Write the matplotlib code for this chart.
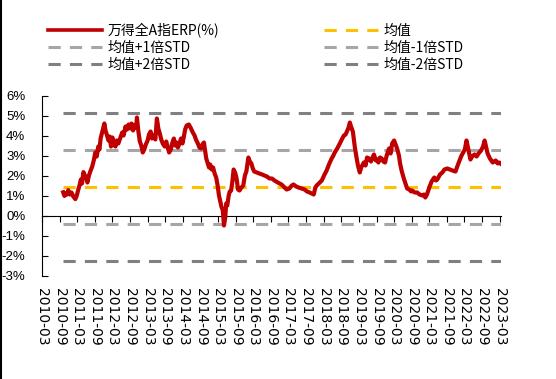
import matplotlib
matplotlib.use("Agg")
import matplotlib.pyplot as plt
import matplotlib.dates as mdates
from matplotlib.lines import Line2D
from matplotlib.font_manager import FontProperties
import pandas as pd

plt.rcParams['font.family'] = ['DejaVu Sans']
plt.rcParams['axes.unicode_minus'] = False

# ERP series (%)
erp_dates = [
    "2010-10-07", "2010-10-20", "2010-11-02", "2010-11-15", "2010-11-28",
    "2010-12-15", "2011-01-01", "2011-01-20", "2011-02-10", "2011-02-25",
    "2011-03-10", "2011-03-25", "2011-04-08", "2011-04-20", "2011-05-05",
    "2011-05-20", "2011-06-05", "2011-06-15", "2011-07-01", "2011-07-15",
    "2011-08-04", "2011-08-20", "2011-09-05", "2011-09-20", "2011-10-06",
    "2011-10-18", "2011-10-30", "2011-11-15", "2011-11-28", "2011-12-08",
    "2011-12-20", "2012-01-05", "2012-01-19", "2012-02-01", "2012-02-15",
    "2012-03-01", "2012-03-15", "2012-04-01", "2012-04-15", "2012-05-01",
    "2012-05-23", "2012-06-10", "2012-06-25", "2012-07-14", "2012-07-30",
    "2012-08-15", "2012-09-01", "2012-09-15", "2012-10-01", "2012-10-15",
    "2012-11-01", "2012-11-10", "2012-11-25", "2012-12-10", "2012-12-25",
    "2013-01-09", "2013-01-25", "2013-02-10", "2013-03-01", "2013-03-15",
    "2013-04-01", "2013-04-15", "2013-05-02", "2013-05-20", "2013-06-05",
    "2013-06-20", "2013-07-05", "2013-07-20", "2013-08-05", "2013-08-25",
    "2013-09-10", "2013-09-25", "2013-10-10", "2013-10-27", "2013-11-10",
    "2013-11-28", "2013-12-10", "2013-12-25", "2014-01-09", "2014-01-25",
    "2014-02-10", "2014-02-25", "2014-03-10", "2014-03-25", "2014-04-10",
    "2014-05-02", "2014-05-20", "2014-06-13", "2014-07-01", "2014-07-15",
    "2014-08-04", "2014-08-20", "2014-09-05", "2014-09-20", "2014-10-06",
    "2014-10-20", "2014-10-30", "2014-11-15", "2014-11-28", "2014-12-10",
    "2014-12-25", "2015-01-09", "2015-01-25", "2015-02-10", "2015-02-25",
    "2015-03-11", "2015-03-25", "2015-04-05", "2015-04-20", "2015-05-02",
    "2015-05-15", "2015-05-25", "2015-06-05", "2015-06-20", "2015-07-01",
    "2015-07-15", "2015-07-28", "2015-08-10", "2015-08-25", "2015-09-08",
    "2015-09-25", "2015-10-10", "2015-10-30", "2015-11-18", "2015-12-05",
    "2015-12-20", "2016-01-10", "2016-01-25", "2016-02-10", "2016-02-25",
    "2016-03-11", "2016-04-05", "2016-05-03", "2016-06-01", "2016-06-24",
    "2016-07-20", "2016-08-16", "2016-09-10", "2016-10-07", "2016-11-10",
    "2016-12-19", "2017-01-20", "2017-02-10", "2017-03-10", "2017-04-05",
    "2017-04-22", "2017-05-20", "2017-06-14", "2017-07-15", "2017-08-15",
    "2017-09-10", "2017-10-07", "2017-11-18", "2017-12-05", "2017-12-19",
    "2018-01-20", "2018-02-10", "2018-03-05", "2018-04-01", "2018-04-25",
    "2018-05-23", "2018-06-10", "2018-06-24", "2018-07-20", "2018-08-16",
    "2018-09-05", "2018-09-27", "2018-10-15", "2018-10-28", "2018-11-15",
    "2018-11-28", "2018-12-10", "2018-12-29", "2019-01-19", "2019-02-05",
    "2019-02-20", "2019-03-11", "2019-03-25", "2019-04-22", "2019-05-10",
    "2019-05-25", "2019-06-14", "2019-07-05", "2019-07-25", "2019-08-05",
    "2019-08-25", "2019-09-05", "2019-09-20", "2019-10-06", "2019-10-25",
    "2019-11-10", "2019-11-28", "2019-12-15", "2020-01-09", "2020-01-25",
    "2020-02-10", "2020-03-01", "2020-03-20", "2020-04-01", "2020-04-20",
    "2020-05-02", "2020-05-20", "2020-06-13", "2020-06-30", "2020-07-14",
    "2020-08-05", "2020-08-25", "2020-09-05", "2020-10-01", "2020-10-27",
    "2020-11-20", "2020-12-19", "2021-01-05", "2021-01-19", "2021-02-05",
    "2021-03-01", "2021-03-25", "2021-04-22", "2021-05-10", "2021-05-23",
    "2021-06-20", "2021-07-14", "2021-08-05", "2021-09-05", "2021-10-01",
    "2021-10-27", "2021-11-28", "2021-12-20", "2022-01-09", "2022-01-25",
    "2022-02-10", "2022-03-05", "2022-03-22", "2022-04-10", "2022-05-02",
    "2022-05-20", "2022-06-13", "2022-07-05", "2022-07-25", "2022-08-20",
    "2022-09-10", "2022-09-26", "2022-10-10", "2022-10-27", "2022-11-20",
    "2022-12-19", "2023-01-05", "2023-01-19", "2023-02-10", "2023-02-25",
    "2023-03-10",
]
erp_values = [
    1.16, 0.98, 1.12, 1.05, 1.27,
    1.05, 1.15, 0.95, 0.82, 1.00,
    1.25, 1.50, 1.80, 1.60, 2.17,
    2.00, 1.85, 1.65, 2.00, 2.20,
    2.45, 2.75, 3.15, 2.95, 3.45,
    3.30, 3.85, 4.15, 4.40, 4.60,
    4.25, 4.00, 3.75, 3.95, 3.45,
    3.90, 3.55, 3.45, 3.75, 3.60,
    3.90, 4.15, 4.00, 4.45, 4.30,
    4.55, 4.35, 4.60, 4.25, 4.50,
    4.40, 4.90, 4.20, 3.70, 3.50,
    3.15, 3.30, 3.55, 3.75, 4.05,
    4.20, 3.85, 4.00, 3.80, 4.85,
    4.35, 4.10, 3.80, 3.60, 3.45,
    3.70, 3.40, 3.15, 3.30, 3.60,
    3.85, 3.50, 3.65, 3.40, 3.60,
    3.85, 3.60, 3.90, 4.30, 4.50,
    4.55, 4.40, 4.15, 4.00, 3.80,
    3.60, 3.40, 3.35, 3.55, 3.65,
    3.20, 2.85, 2.60, 2.40, 2.55,
    2.30, 2.40, 2.10, 1.90, 1.50,
    1.00, 0.70, 0.45, 0.25, -0.50,
    -0.10, 0.60, 0.50, 1.00, 1.20,
    1.25, 1.70, 2.30, 2.15, 1.90,
    1.30, 1.25, 1.40, 1.50, 2.00,
    2.20, 2.90, 2.70, 2.60, 2.35,
    2.20, 2.15, 2.10, 2.05, 2.00,
    1.95, 1.85, 1.85, 1.75, 1.65,
    1.55, 1.40, 1.30, 1.35, 1.50,
    1.55, 1.45, 1.40, 1.35, 1.30,
    1.20, 1.15, 1.05, 1.40, 1.50,
    1.65, 1.75, 2.00, 2.25, 2.55,
    2.85, 3.00, 3.15, 3.35, 3.60,
    3.80, 4.00, 4.05, 4.20, 4.40,
    4.65, 4.45, 4.20, 3.40, 2.90,
    2.50, 2.15, 2.40, 2.65, 2.50,
    2.90, 2.85, 2.70, 2.95, 3.05,
    2.75, 2.80, 2.65, 2.90, 2.85,
    2.70, 2.65, 3.00, 3.35, 3.10,
    3.60, 3.75, 3.50, 3.35, 3.00,
    2.60, 2.20, 1.80, 1.55, 1.35,
    1.30, 1.20, 1.25, 1.15, 1.15,
    1.05, 1.00, 1.05, 0.90, 1.05,
    1.40, 1.70, 1.90, 1.75, 1.80,
    2.05, 2.15, 2.30, 2.35, 2.30,
    2.25, 2.20, 2.50, 2.75, 2.95,
    3.10, 3.30, 3.75, 3.30, 2.80,
    2.95, 3.05, 2.95, 3.10, 3.25,
    3.45, 3.75, 3.45, 3.10, 2.85,
    2.65, 2.70, 2.75, 2.60, 2.65,
    2.60,
]

# reference levels
mean_level = 1.45
plus1_level = 3.30
plus2_level = 5.15
minus1_level = -0.42
minus2_level = -2.28

tick_labels = [
    "2010-03", "2010-09", "2011-03", "2011-09", "2012-03", "2012-09",
    "2013-03", "2013-09", "2014-03", "2014-09", "2015-03", "2015-09",
    "2016-03", "2016-09", "2017-03", "2017-09", "2018-03", "2018-09",
    "2019-03", "2019-09", "2020-03", "2020-09", "2021-03", "2021-09",
    "2022-03", "2022-09", "2023-03",
]
y_ticks = [-3, -2, -1, 0, 1, 2, 3, 4, 5, 6]

legend_labels = ["万得全A指ERP(%)", "均值+1倍STD", "均值+2倍STD",
                 "均值", "均值-1倍STD", "均值-2倍STD"]

red = "#C00000"
yellow = "#FFC000"
light_gray = "#A6A6A6"
dark_gray = "#808080"

x = mdates.date2num(pd.to_datetime(erp_dates))
tick_x = mdates.date2num(pd.to_datetime([t + "-01" for t in tick_labels]))

fig = plt.figure(figsize=(5.56, 3.79), dpi=100)
ax = fig.add_axes([42 / 556, 1 - 275.5 / 379, 459 / 556, 180 / 379])

dash = (0, (4, 3))
ax.hlines(plus2_level, x[0], x[-1], color=dark_gray, lw=2.2, linestyle=dash)
ax.hlines(plus1_level, x[0], x[-1], color=light_gray, lw=2.2, linestyle=dash)
ax.hlines(mean_level, x[0], x[-1], color=yellow, lw=2.2, linestyle=dash)
ax.hlines(minus1_level, x[0], x[-1], color=light_gray, lw=2.2, linestyle=dash)
ax.hlines(minus2_level, x[0], x[-1], color=dark_gray, lw=2.2, linestyle=dash)
ax.plot(x, erp_values, color=red, lw=3.0, zorder=5)

ax.set_xlim(mdates.date2num(pd.Timestamp("2010-03-01")),
            mdates.date2num(pd.Timestamp("2023-03-15")))
ax.set_ylim(-3, 6)

ax.spines["top"].set_visible(False)
ax.spines["right"].set_visible(False)
ax.spines["bottom"].set_position(("data", 0))

ax.set_yticks(y_ticks)
ax.set_yticklabels([f"{v}%" for v in y_ticks], fontfamily="Liberation Sans", fontsize=9.5)
ax.tick_params(axis="y", direction="in", length=4, pad=12)

ax.set_xticks(tick_x)
ax.tick_params(axis="x", direction="out", length=4, labelbottom=False)

sec = ax.secondary_xaxis(0.0)
sec.set_xticks(tick_x)
sec.set_xticklabels(tick_labels, rotation=-90, fontfamily="DejaVu Sans", fontsize=10)
sec.tick_params(length=0, pad=9)
sec.spines["bottom"].set_visible(False)

handles = [
    Line2D([], [], color=red, lw=2.6),
    Line2D([], [], color=light_gray, lw=2.2, linestyle=dash),
    Line2D([], [], color=dark_gray, lw=2.2, linestyle=dash),
    Line2D([], [], color=yellow, lw=2.2, linestyle=dash),
    Line2D([], [], color=light_gray, lw=2.2, linestyle=dash),
    Line2D([], [], color=dark_gray, lw=2.2, linestyle=dash),
]
fig.legend(handles, legend_labels, ncol=2, loc="upper left",
           bbox_to_anchor=(48 / 556, 1 - 23 / 379), frameon=False,
           prop=FontProperties(family=["Noto Sans CJK SC", "DejaVu Sans"], size=10),
           handlelength=3.9, handletextpad=0.4,
           columnspacing=7.5, labelspacing=0.2, borderpad=0, borderaxespad=0)

# left frame line of the original screenshot
fig.add_artist(Line2D([0.0015, 0.0015], [0, 1], transform=fig.transFigure,
                      color="black", lw=1.5))

fig.savefig("out.png", dpi=100)
